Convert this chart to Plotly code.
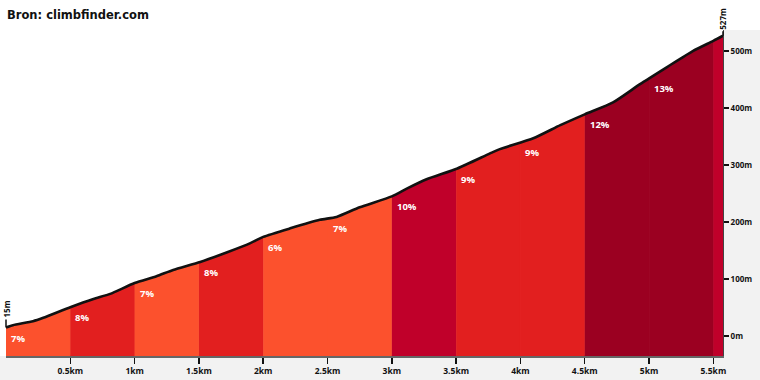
import numpy as np
import plotly.graph_objects as go

# ---- data ----
dist_km = [0, 0.054, 0.21, 0.29, 0.505, 0.68, 0.81, 1.0, 1.17, 1.30, 1.51, 1.72, 1.90, 2.0,
           2.21, 2.44, 2.57, 2.75, 3.0, 3.12, 3.27, 3.51, 3.76, 3.84, 4.10, 4.31, 4.50,
           4.72, 4.93, 5.14, 5.34, 5.50, 5.575]
elev_m = [15, 19, 26, 32, 51, 65, 74, 93, 105, 116, 130, 147, 163, 174,
          189, 204, 209, 226, 245, 259, 275, 294, 320, 328, 347, 370, 389,
          410, 442, 472, 500, 518, 527]

seg_start = [0, 0.5, 1.0, 1.5, 2.0, 2.5, 3.0, 3.5, 4.0, 4.5, 5.0, 5.5]
seg_end = [0.5, 1.0, 1.5, 2.0, 2.5, 3.0, 3.5, 4.0, 4.5, 5.0, 5.5, 5.575]
seg_grade = [7, 8, 7, 8, 6, 7, 10, 9, 9, 12, 13, 11]
seg_label = ["7%", "8%", "7%", "8%", "6%", "7%", "10%", "9%", "9%", "12%", "13%", ""]

x_tickvals = [0.5, 1.0, 1.5, 2.0, 2.5, 3.0, 3.5, 4.0, 4.5, 5.0, 5.5]
x_ticktext = ["0.5km", "1km", "1.5km", "2km", "2.5km", "3km", "3.5km", "4km", "4.5km", "5km", "5.5km"]
y_tickvals = [0, 100, 200, 300, 400, 500]
y_ticktext = ["0m", "100m", "200m", "300m", "400m", "500m"]

title_text = "Bron: climbfinder.com"
start_label = "15m"
end_label = "527m"

# ---- styling ----
Y_MIN, Y_MAX = -35, 537
X_MAX = dist_km[-1]
FONT = "Open Sans"


def grade_color(g):
    if g >= 12:
        return "#9b0021"
    if g >= 10:
        return "#c0002a"
    if g >= 8:
        return "#e21f1f"
    return "#fc512d"


dk = np.array(dist_km, dtype=float)
el = np.array(elev_m, dtype=float)

fig = go.Figure()

for a, b, g in zip(seg_start, seg_end, seg_grade):
    inner = dk[(dk > a) & (dk < b)]
    xs = np.concatenate([[a], inner, [b]])
    ys = np.interp(xs, dk, el)
    px = list(xs) + [b, a]
    py = list(ys) + [Y_MIN, Y_MIN]
    fig.add_trace(go.Scatter(x=px, y=py, fill="toself", mode="lines",
                             line=dict(width=1, color=grade_color(g)),
                             fillcolor=grade_color(g), hoverinfo="skip",
                             showlegend=False))

fig.add_trace(go.Scatter(x=dist_km, y=elev_m, mode="lines",
                         line=dict(color="#111111", width=2.6, shape="spline", smoothing=0.6),
                         showlegend=False, hoverinfo="skip"))

for a, lab in zip(seg_start, seg_label):
    if not lab:
        continue
    y0 = float(np.interp(a, dk, el))
    fig.add_annotation(x=a, y=y0, text="<b>" + lab + "</b>", showarrow=False,
                       xanchor="left", yanchor="top", xshift=3, yshift=-2,
                       font=dict(family=FONT, size=9.5, color="white"))

# start / end labels
fig.add_annotation(x=dist_km[0], y=elev_m[0], text="<b>" + start_label + "</b>",
                   textangle=-90, showarrow=True, arrowhead=0, arrowwidth=1.5,
                   arrowcolor="#111", ax=0, ay=-18, standoff=0,
                   font=dict(family=FONT, size=8, color="#111"))
fig.add_annotation(x=dist_km[-1], y=elev_m[-1], text="<b>" + end_label + "</b>",
                   textangle=-90, showarrow=True, arrowhead=0, arrowwidth=1.5,
                   arrowcolor="#111", ax=0, ay=-17, standoff=0,
                   font=dict(family=FONT, size=8, color="#111"))

# title
fig.add_annotation(xref="paper", yref="paper", x=0, y=1, xshift=-1, yshift=15,
                   text="<b>" + title_text + "</b>", showarrow=False,
                   xanchor="left", yanchor="middle",
                   font=dict(family="DejaVu Sans", size=11.5, color="#111"))

# light grey panels outside the plot
fig.add_shape(type="rect", xref="paper", yref="paper", x0=1, x1=1.1, y0=-0.2, y1=1,
              fillcolor="#f2f2f2", line_width=0, layer="below")
fig.add_shape(type="rect", xref="paper", yref="paper", x0=-0.1, x1=1.1, y0=-0.2, y1=0,
              fillcolor="#f2f2f2", line_width=0, layer="below")

fig.update_layout(
    width=760, height=380,
    margin=dict(l=6, r=37, t=30, b=24, autoexpand=False),
    paper_bgcolor="white", plot_bgcolor="white",
    xaxis=dict(range=[0, X_MAX], tickvals=x_tickvals,
               ticktext=["<b>" + t + "</b>" for t in x_ticktext],
               ticks="outside", ticklen=6, tickwidth=1.5, tickcolor="#111",
               showgrid=False, zeroline=False, showline=True, linecolor="#666",
               linewidth=1.5, tickfont=dict(family=FONT, size=8.5, color="#111"),
               fixedrange=True, automargin=False),
    yaxis=dict(range=[Y_MIN, Y_MAX], side="right", tickvals=y_tickvals,
               ticktext=["<b>" + t + "</b>" for t in y_ticktext],
               ticks="outside", ticklen=5, tickwidth=1.5, tickcolor="#111",
               showgrid=False, zeroline=False, showline=True, linecolor="#444",
               linewidth=1, tickfont=dict(family=FONT, size=8, color="#111"),
               fixedrange=True, automargin=False),
)

fig.write_html("out.html", config={"displayModeBar": False, "staticPlot": True},
               post_script="document.body.style.margin='0';document.body.style.overflow='hidden';")
